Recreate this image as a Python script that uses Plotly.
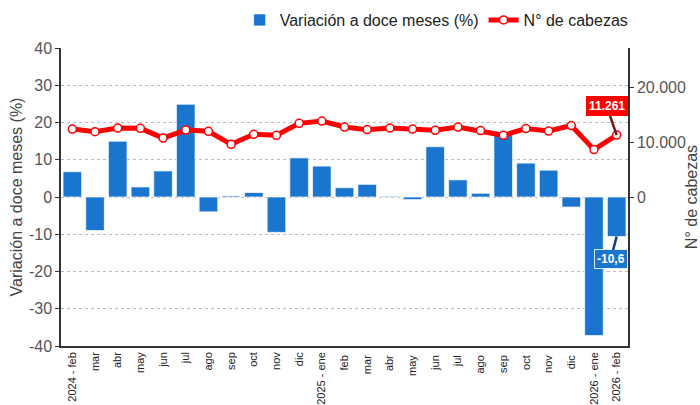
import plotly.graph_objects as go

categorias = ["2024 - feb", "mar", "abr", "may", "jun", "jul", "ago", "sep", "oct", "nov", "dic",
              "2025 - ene", "feb ", "mar ", "abr ", "may ", "jun ", "jul ", "ago ", "sep ", "oct ", "nov ", "dic ",
              "2026 - ene", "2026 - feb"]
variacion = [6.8, -9.0, 15.0, 2.7, 7.0, 24.9, -4.0, 0.3, 1.2, -9.5, 10.5,
             8.3, 2.5, 3.4, 0.2, -0.7, 13.5, 4.6, 1.0, 16.9, 9.1, 7.2, -2.7,
             -37.2, -10.6]
cabezas = [12364, 11890, 12545, 12490, 10727, 12182, 11945, 9582, 11400, 11218, 13400,
           13818, 12727, 12255, 12545, 12364, 12127, 12727, 12073, 11218, 12436, 12000, 12982,
           8618, 11261]
ticks_der = [0, 10000, 20000]
ticks_der_txt = ["0", "10.000", "20.000"]
ticks_izq = [-40, -30, -20, -10, 0, 10, 20, 30, 40]
ticks_izq_txt = ["-40", "-30", "-20", "-10", "0", "10", "20", "30", "40"]

font_fam = "Liberation Sans, Arial, sans-serif"

fig = go.Figure()
fig.add_trace(go.Bar(
    x=categorias, y=variacion, name="Variación a doce meses (%)",
    marker=dict(color="#1a75cf", line=dict(color="rgba(255,255,255,0.7)", width=1)),
    yaxis="y", width=0.82,
))
fig.add_trace(go.Scatter(
    x=categorias, y=cabezas, name="N° de cabezas", mode="lines+markers",
    line=dict(color="#ff0000", width=5),
    marker=dict(color="white", size=8, line=dict(color="#ff0000", width=1.5)),
    yaxis="y2",
))

fig.add_annotation(
    x=categorias[-1], y=cabezas[-1], xref="x", yref="y2",
    text="<b>" + f"{cabezas[-1]:,}".replace(",", ".") + "</b>",
    showarrow=True, arrowhead=0, arrowwidth=2.5, arrowcolor="#7a1414",
    ax=-10, ay=-29, bgcolor="#ff0000", bordercolor="#ff0000", borderpad=2,
    font=dict(color="white", size=12, family=font_fam),
)
fig.add_annotation(
    x=categorias[-1], y=variacion[-1], xref="x", yref="y",
    text="<b>" + f"{variacion[-1]:.1f}".replace(".", ",") + "</b>",
    showarrow=True, arrowhead=0, arrowwidth=2.5, arrowcolor="#0b3d80",
    ax=-6, ay=23, bgcolor="#1a75cf", bordercolor="rgba(255,255,255,0.8)", borderwidth=1, borderpad=2,
    font=dict(color="white", size=12, family=font_fam),
)

fig.update_layout(
    width=700, height=405,
    margin=dict(l=61, r=72, t=48, b=59, autoexpand=False),
    paper_bgcolor="white", plot_bgcolor="white",
    font=dict(family=font_fam, color="#444"),
    bargap=0.1,
    showlegend=True,
    legend=dict(orientation="h", x=1.01, xanchor="right", y=1.094, yanchor="middle",
                font=dict(size=16, color="#222"), itemwidth=30, traceorder="normal"),
    xaxis=dict(
        type="category", tickangle=-90, tickfont=dict(size=11, color="#222"),
        showgrid=False, showline=True, linecolor="#333", linewidth=1.5, ticks="",
        range=[-0.5, len(categorias) - 0.5], fixedrange=True, automargin=False,
    ),
    yaxis=dict(
        range=[-40, 40], tickvals=ticks_izq, ticktext=ticks_izq_txt, tickfont=dict(size=16, color="#555"),
        showgrid=True, gridcolor="#bbbbbb", griddash="dot", gridwidth=1,
        showline=True, linecolor="#333", linewidth=1.5, ticks="outside", ticklen=4, tickcolor="#333",
        zeroline=False, automargin=False,
        title=dict(text="Variación a doce meses (%)", font=dict(size=16, color="#444"), standoff=2),
    ),
    yaxis2=dict(
        overlaying="y", side="right", range=[-27100, 27100],
        tickvals=ticks_der, ticktext=ticks_der_txt, tickfont=dict(size=16, color="#555"),
        showgrid=False, zeroline=False, automargin=False,
        showline=True, linecolor="#333", linewidth=1.5, ticks="outside", ticklen=4, tickcolor="#333",
        title=dict(text="N° de cabezas", font=dict(size=16, color="#444"), standoff=8),
    ),
)

fig.write_html("out.html", config={"displayModeBar": False},
               post_script="document.body.style.margin='0';")
